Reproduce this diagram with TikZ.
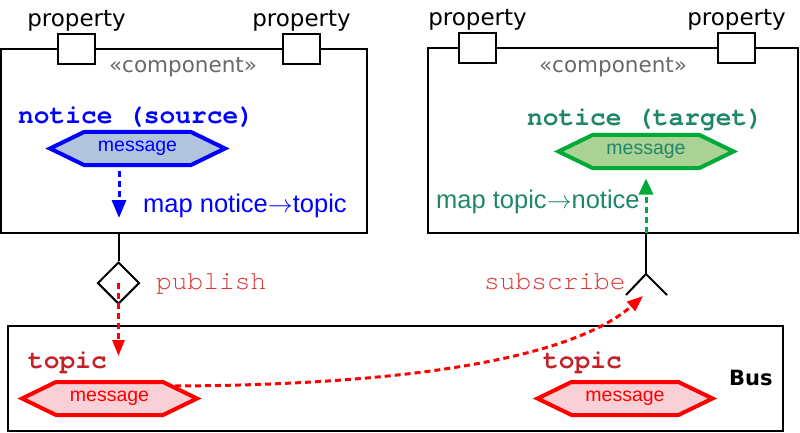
\documentclass[tikz,border=0pt]{standalone}
\usepackage{fontspec}
\setmainfont{DejaVu Sans}
\setmonofont{TeX Gyre Cursor}
\newfontfamily\msgfont{Liberation Sans}
\usetikzlibrary{positioning,shapes.geometric,arrows.meta}

\definecolor{srcblue}{RGB}{0,0,255}
\definecolor{srcfill}{RGB}{176,196,222}
\definecolor{tgtgreen}{RGB}{0,170,55}
\definecolor{tgtfill}{RGB}{170,210,148}
\definecolor{tgttext}{RGB}{30,135,105}
\definecolor{busred}{RGB}{255,0,0}
\definecolor{busfill}{RGB}{248,208,214}
\definecolor{topictext}{RGB}{195,35,40}
\definecolor{optext}{RGB}{222,50,50}
\definecolor{stereo}{RGB}{105,105,105}

\tikzset{
  box/.style={draw, line width=2pt, inner sep=0, outer sep=0},
  port/.style={draw, fill=white, line width=2pt, minimum width=37pt,
    minimum height=30pt, inner sep=0, outer sep=0},
  proplbl/.style={inner sep=0, font=\fontsize{23}{23}\selectfont},
  stereolbl/.style={text=stereo, inner sep=0, font=\fontsize{21.5}{21.5}\selectfont},
  hexline/.style={line width=4pt, line join=miter},
  hextext/.style={minimum width=107pt, minimum height=33pt, inner sep=0, outer sep=0,
    font=\msgfont\fontsize{19.5}{19.5}\selectfont},
  codelbl/.style={inner sep=0, anchor=base west, font=\ttfamily\bfseries\fontsize{26.2}{26.2}\selectfont},
  oplbl/.style={inner sep=0, anchor=base west, text=optext, font=\ttfamily\fontsize{26.2}{26.2}\selectfont},
  maplbl/.style={inner sep=0, anchor=base west, font=\msgfont\fontsize{25.5}{25.5}\selectfont},
}

% hexagon message: name, centre, border, fill, text colour
\newcommand{\msghex}[5]{%
  \draw[hexline, draw=#3, fill=#4] (#2) ++(-87.5,0) -- ++(34,-16.5) -- ++(107,0)
    -- ++(34,16.5) -- ++(-34,16.5) -- ++(-107,0) -- cycle;
  \node[hextext, text=#5] (#1) at (#2) {message};}

\begin{document}
\begin{tikzpicture}[x=1pt,y=-1pt]
  \useasboundingbox (0,0) rectangle (800,433);

  % components and bus
  \node[box, minimum width=366pt, minimum height=184pt] (srcbox) at (184,141) {};
  \node[box, minimum width=370pt, minimum height=185pt] (tgtbox) at (613,140.5) {};
  \node[box, minimum width=775pt, minimum height=105pt] (bus) at (395.5,378.5) {};

  % ports
  \begin{scope}[every node/.style={port}]
    \node (srcpa) at (76.5,49) {} ;
    \node (srcpb) at (301.5,49) {} ;
    \node (tgtpa) at (477.5,48.5) {} ;
    \node (tgtpb) at (736.5,48.5) {} ;
  \end{scope}

  \begin{scope}[every node/.style={proplbl}]
    \node[above=3pt of srcpa] {property} ;
    \node[above=3pt of srcpb] {property} ;
    \node[above=3pt of tgtpa] {property} ;
    \node[above=3pt of tgtpb] {property} ;
  \end{scope}

  \node[stereolbl, anchor=base] at (183,73) {«component»} ;
  \node[stereolbl, anchor=base] at (613,73) {«component»} ;

  % messages
  \msghex{srcmsg}{137.5,148.5}{srcblue}{srcfill}{srcblue}
  \msghex{tgtmsg}{646,151.5}{tgtgreen}{tgtfill}{tgttext}
  \msghex{busmsga}{109.5,398.5}{busred}{busfill}{busred}
  \msghex{busmsgb}{625,398.5}{busred}{busfill}{busred}

  \node[codelbl, text=srcblue] at (18,124) {notice (source)} ;
  \node[codelbl, text=tgttext] at (527,126) {notice (target)} ;
  \node[codelbl, text=topictext] at (28,368) {topic} ;
  \node[codelbl, text=topictext] at (543,368) {topic} ;
  \node[anchor=base west, inner sep=0, font=\bfseries\fontsize{21}{21}\selectfont] at (729,385) {Bus} ;

  \node[maplbl, text=srcblue] at (143,212) {map notice$\rightarrow$topic} ;
  \node[maplbl, text=tgttext] at (436,208) {map topic$\rightarrow$notice} ;

  % publish / subscribe
  \node[diamond, draw, line width=2pt, minimum width=42pt, minimum height=42pt, inner sep=0] (pub) at (118.5,283) {} ;
  \node[oplbl] at (156,289) {publish} ;
  \node[oplbl] at (484,289) {subscribe} ;

  \coordinate (sock) at (646,274) ;
  \coordinate (sockl) at (626,295) ;
  \coordinate (sockr) at (667,295) ;
  \coordinate (srcmap) at (119,218) ;
  \coordinate (pubin) at (118.5,356) ;
  \coordinate (subin) at (643,296) ;

  \begin{scope}[line width=2pt]
    \draw (pub.north) to (pub.north |- srcbox.south);
    \draw (sock) to (sock |- tgtbox.south);
    \draw (sockl) to (sock) to (sockr);
  \end{scope}

  \begin{scope}[line width=3pt, dash pattern=on 6pt off 4pt]
    \draw[srcblue, -{Triangle[length=18pt,width=14pt]}, shorten <=6pt] (srcmsg.south -| srcmap) to (srcmap);
    \draw[tgtgreen, -{Triangle[length=16pt,width=14pt]}] (tgtbox.south -| tgtmsg.south) to ([yshift=-10.5pt]tgtmsg.south);
    \draw[busred, -{Triangle[length=16pt,width=12pt]}] (pub.center) to (pubin);
    \draw[busred, -{Triangle[length=16pt,width=12pt]}] ([xshift=12pt,yshift=12.5pt]busmsga.east) .. controls (400,385) and (570,360) .. (subin);
  \end{scope}
\end{tikzpicture}
\end{document}
